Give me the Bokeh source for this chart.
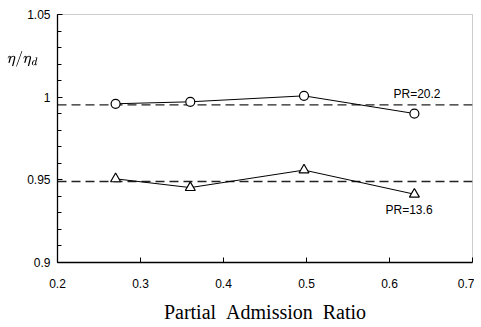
from bokeh.plotting import figure
from bokeh.models import Label, Range1d, FixedTicker, SingleIntervalTicker, NumeralTickFormatter, ColumnDataSource
from bokeh.embed import file_html
from bokeh.resources import INLINE

# data
admission_ratio = [0.27, 0.36, 0.497, 0.63]
eff_pr202 = [0.9960, 0.9972, 1.0008, 0.9901]
eff_pr136 = [0.9506, 0.9453, 0.9559, 0.9413]
design_pr202 = 0.9953
design_pr136 = 0.9490
x_ticks = [0.2, 0.3, 0.4, 0.5, 0.6, 0.7]

p = figure(width=474, height=327, output_backend="svg", toolbar_location=None,
           x_range=Range1d(0.2, 0.7), y_range=Range1d(0.9, 1.05),
           min_border_left=57, min_border_right=2, min_border_top=14, min_border_bottom=65)
p.background_fill_color = "white"
p.border_fill_color = "white"
p.grid.visible = False
p.outline_line_color = "#999999"
p.outline_line_dash = "1 1"
p.outline_line_width = 1

# axes
p.xaxis.ticker = FixedTicker(ticks=x_ticks)
p.xaxis.formatter = NumeralTickFormatter(format="0.0")
p.yaxis.ticker = SingleIntervalTicker(interval=0.05, num_minor_ticks=5)
p.yaxis.formatter = NumeralTickFormatter(format="0.[00]")
for ax in (p.xaxis[0], p.yaxis[0]):
    ax.axis_line_color = "black"
    ax.axis_line_width = 1.3
    ax.major_tick_in = 5
    ax.major_tick_out = 0
    ax.minor_tick_in = 4
    ax.minor_tick_out = 0
    ax.major_tick_line_color = "black"
    ax.minor_tick_line_color = "black"
    ax.major_label_text_font = "Liberation Sans"
    ax.major_label_text_font_size = "12px"
    ax.major_label_text_color = "black"
p.xaxis.major_label_standoff = 16
p.yaxis.major_label_standoff = 7

p.xaxis.axis_label = "Partial\u00a0\u00a0Admission\u00a0\u00a0Ratio"
p.xaxis.axis_label_text_font = "Liberation Serif"
p.xaxis.axis_label_text_font_style = "normal"
p.xaxis.axis_label_text_font_size = "20px"
p.xaxis.axis_label_text_color = "black"
p.xaxis.axis_label_standoff = 10

p.yaxis.axis_label = r"$$\begin{array}{l}\\ \\ \\ \\ \eta/\eta_d\end{array}$$"
p.yaxis.axis_label_orientation = "horizontal"
p.yaxis.axis_label_align = "end"
p.yaxis.axis_label_text_font_size = "12px"
p.yaxis.axis_label_text_color = "black"
p.yaxis.axis_label_standoff = -14

xr = [p.x_range.start, p.x_range.end]
# design lines (dashed)
p.line(xr, [design_pr202, design_pr202], line_color="#222222", line_width=1.3, line_dash="9 5")
p.line(xr, [design_pr136, design_pr136], line_color="#222222", line_width=1.3, line_dash="9 5")

src1 = ColumnDataSource(dict(x=admission_ratio, y=eff_pr202))
src2 = ColumnDataSource(dict(x=admission_ratio, y=eff_pr136))
p.line("x", "y", source=src1, line_color="black", line_width=1)
p.line("x", "y", source=src2, line_color="black", line_width=1)
p.scatter("x", "y", source=src1, marker="circle", size=9, fill_color="white", line_color="black", line_width=1.2)
p.scatter("x", "y", source=src2, marker="triangle", size=10, fill_color="white", line_color="black", line_width=1.2)

# annotations
p.add_layout(Label(x=0.6048, y=1.0018, text="PR=20.2", text_font="Liberation Sans",
                   text_font_size="12px", text_baseline="middle", text_color="black"))
p.add_layout(Label(x=0.5952, y=0.9318, text="PR=13.6", text_font="Liberation Sans",
                   text_font_size="12px", text_baseline="middle", text_color="black"))

open("out.html", "w").write(file_html(p, INLINE))
